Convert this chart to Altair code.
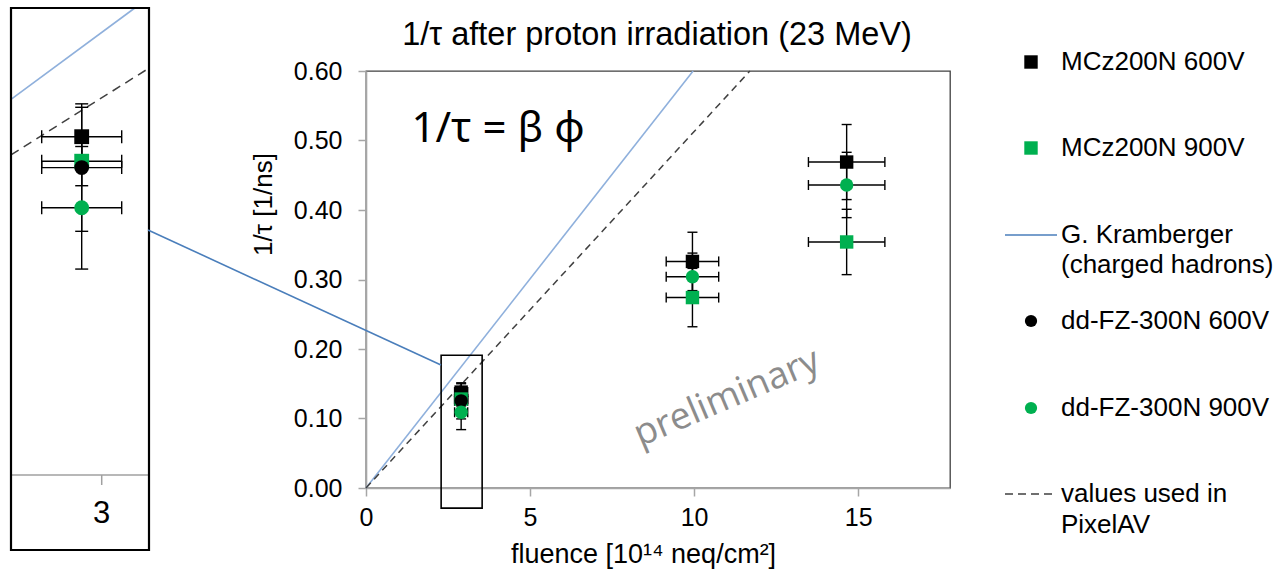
import altair as alt
import pandas as pd

# ---------------- data ----------------
series_names = ["MCz200N 600V", "MCz200N 900V", "dd-FZ-300N 600V", "dd-FZ-300N 900V"]
series_colors = ["#000000", "#00b050", "#000000", "#00b050"]
series_shapes = ["square", "square", "circle", "circle"]

fluence = [2.9, 9.95, 14.65]            # 1e14 neq/cm^2
fluence_err = [0.2, 0.8, 1.165]

mcz600_tau = [0.138, 0.326, 0.469]
mcz600_err = [0.012, 0.042, 0.054]
mcz900_tau = [0.128, 0.274, 0.354]
mcz900_err = [0.010, 0.042, 0.047]
dd600_fluence = [2.9]
dd600_fluence_err = [0.2]
dd600_tau = [0.1254]
dd600_err = [0.026]
dd900_tau = [0.109, 0.304, 0.436]
dd900_err = [0.025, 0.034, 0.047]

kram_x = [0.0, 9.97]        # G. Kramberger (charged hadrons)
kram_y = [0.0, 0.60]
pixelav_x = [0.0, 11.7]     # values used in PixelAV
pixelav_y = [0.0, 0.60]

x_ticks = [0, 5, 10, 15]
y_ticks = [0.0, 0.1, 0.2, 0.3, 0.4, 0.5, 0.6]
x_domain = [0, 17.8]
y_domain = [0, 0.6]

zoom_box_x = [2.29, 3.54]
zoom_box_y = [-0.029, 0.191]
inset_x_domain = [2.5465, 3.2365]
inset_y_domain = [-0.0306, 0.1905]
inset_ticks = [3]

chart_title = "1/τ after proton irradiation (23 MeV)"
legend_labels = ["MCz200N 600V", "MCz200N 900V", "G. Kramberger", "(charged hadrons)",
                 "dd-FZ-300N 600V", "dd-FZ-300N 900V", "values used in", "PixelAV"]

# ---------------- tables ----------------
rows = []
for name, fl, fle, tau, err in [
    (series_names[0], fluence, fluence_err, mcz600_tau, mcz600_err),
    (series_names[1], fluence, fluence_err, mcz900_tau, mcz900_err),
    (series_names[2], dd600_fluence, dd600_fluence_err, dd600_tau, dd600_err),
    (series_names[3], fluence, fluence_err, dd900_tau, dd900_err),
]:
    for f, fe, t, e in zip(fl, fle, tau, err):
        rows.append(dict(series=name, fluence=f, xlo=f - fe, xhi=f + fe, tau=t, lo=t - e, hi=t + e))
df = pd.DataFrame(rows)

kram_df = pd.DataFrame({"lx": kram_x, "ly": kram_y})
pix_df = pd.DataFrame({"lx": pixelav_x, "ly": pixelav_y})


def clip_line(xs_, ys_, xd, yd):
    slope = (ys_[1] - ys_[0]) / (xs_[1] - xs_[0])
    x0 = max(xd[0], yd[0] / slope)
    x1 = min(xd[1], yd[1] / slope)
    return pd.DataFrame({"lx": [x0, x1], "ly": [slope * x0, slope * x1]})


kram_in = clip_line(kram_x, kram_y, inset_x_domain, inset_y_domain)
pix_in = clip_line(pixelav_x, pixelav_y, inset_x_domain, inset_y_domain)

one = pd.DataFrame({"k": [0]})
box_main = pd.DataFrame({"x0": [zoom_box_x[0]], "x1": [zoom_box_x[1]], "y0": [zoom_box_y[0]], "y1": [zoom_box_y[1]]})
box_inset = pd.DataFrame({"x0": [inset_x_domain[0]], "x1": [inset_x_domain[1]], "y0": [inset_y_domain[0]], "y1": [inset_y_domain[1]]})
inset_tick_df = pd.DataFrame({"t": inset_ticks, "z": [0] * len(inset_ticks),
                              "lab": [str(t) for t in inset_ticks]})
inset_axis_df = pd.DataFrame({"x0": [inset_x_domain[0]], "x1": [inset_x_domain[1]], "z": [0]})

# ---------------- scales / axes ----------------
main_xs = alt.Scale(domain=x_domain, nice=False, zero=False)
main_ys = alt.Scale(domain=y_domain, nice=False, zero=False)
main_xax = alt.Axis(values=x_ticks, format="d", title="fluence [10¹⁴ neq/cm²]", grid=False,
                    tickSize=8, labelPadding=9, labelFontSize=25, titleFontSize=27, labelFlush=False,
                    titleX=277, titleY=66, titleAlign="center", titleBaseline="middle")
main_yax = alt.Axis(values=y_ticks, format=".2f", title="1/τ  [1/ns]", grid=False,
                    tickSize=8, labelPadding=16, labelFontSize=25, titleFontSize=26, labelFlush=False,
                    titleX=-103, titleY=133, titleAngle=270, titleAlign="center",
                    titleBaseline="middle")

in_xs = alt.Scale(domain=inset_x_domain, range=[11 - 366, 149 - 366], nice=False, zero=False)
in_ys = alt.Scale(domain=inset_y_domain, range=[550 - 71, 8 - 71], nice=False, zero=False)

color_scale = alt.Scale(domain=series_names, range=series_colors)
shape_scale = alt.Scale(domain=series_names, range=series_shapes)


def data_layers(xs, ys, xax, yax, size, cap):
    def X(f):
        return alt.X(f, type="quantitative", scale=xs, axis=xax)

    def Y(f):
        return alt.Y(f, type="quantitative", scale=ys, axis=yax)

    base = alt.Chart(df)
    rule = dict(color="black", strokeWidth=1.4)
    layers = [
        base.mark_rule(**rule).encode(x=X("fluence"), y=Y("lo"), y2="hi"),
        base.mark_rule(**rule, xOffset=-cap, x2Offset=cap).encode(x=X("fluence"), x2="fluence", y=Y("lo"), y2="lo"),
        base.mark_rule(**rule, xOffset=-cap, x2Offset=cap).encode(x=X("fluence"), x2="fluence", y=Y("hi"), y2="hi"),
        base.mark_rule(**rule).encode(x=X("xlo"), x2="xhi", y=Y("tau")),
        base.mark_rule(**rule, yOffset=-cap, y2Offset=cap).encode(x=X("xlo"), x2="xlo", y=Y("tau"), y2="tau"),
        base.mark_rule(**rule, yOffset=-cap, y2Offset=cap).encode(x=X("xhi"), x2="xhi", y=Y("tau"), y2="tau"),
        base.mark_point(filled=True, size=size, opacity=1, strokeWidth=0).encode(
            x=X("fluence"), y=Y("tau"),
            color=alt.Color("series:N", scale=color_scale, legend=None),
            shape=alt.Shape("series:N", scale=shape_scale, legend=None),
        ),
    ]
    return layers, X, Y


# ---------------- main panel ----------------
m_layers, MX, MY = data_layers(main_xs, main_ys, main_xax, main_yax, 180, 5)
main_kram = alt.Chart(kram_df).mark_line(color="#8fb0dc", strokeWidth=1.6).encode(x=MX("lx"), y=MY("ly"))
main_pix = alt.Chart(pix_df).mark_line(color="#404040", strokeWidth=1.5, strokeDash=[7, 5]).encode(x=MX("lx"), y=MY("ly"))
main_box = alt.Chart(box_main).mark_rect(fillOpacity=0, stroke="black", strokeWidth=1.6).encode(
    x=MX("x0"), x2="x1", y=MY("y0"), y2="y1")
main = alt.layer(main_kram, main_pix, *m_layers, main_box)

# ---------------- inset panel ----------------
i_layers, IX, IY = data_layers(in_xs, in_ys, None, None, 220, 6.5)
in_kram = alt.Chart(kram_in).mark_line(color="#8fb0dc", strokeWidth=1.6).encode(x=IX("lx"), y=IY("ly"))
in_pix = alt.Chart(pix_in).mark_line(color="#404040", strokeWidth=1.5, strokeDash=[9, 6]).encode(x=IX("lx"), y=IY("ly"))
in_axis = alt.Chart(inset_axis_df).mark_rule(color="#a0a0a0", strokeWidth=1.5).encode(
    x=IX("x0"), x2="x1", y=IY("z"))
in_tick = alt.Chart(inset_tick_df).mark_rule(color="#a0a0a0", strokeWidth=1.5, y2Offset=10).encode(
    x=IX("t"), y=IY("z"), y2="z")
in_lab = alt.Chart(inset_tick_df).mark_text(fontSize=31, dy=39, color="black", baseline="middle").encode(
    x=IX("t"), y=IY("z"), text="lab:N")
in_box = alt.Chart(box_inset).mark_rect(fillOpacity=0, stroke="black", strokeWidth=2.2).encode(
    x=IX("x0"), x2="x1", y=IY("y0"), y2="y1")
inset = alt.layer(in_axis, in_tick, in_lab, in_kram, in_pix, *i_layers, in_box)

# ---------------- annotations ----------------
title_mark = alt.Chart(one).mark_text(fontSize=32.5, color="black", align="center", baseline="middle").encode(
    x=alt.value(291), y=alt.value(-36), text=alt.value(chart_title))
callout = alt.Chart(one).mark_rule(color="#4a7ebb", strokeWidth=1.6).encode(
    x=alt.value(-218), y=alt.value(159), x2=alt.value(75), y2=alt.value(294))
formula = alt.Chart(one).mark_text(font="Noto Sans", fontSize=42, color="black", align="center",
                                   baseline="middle").encode(
    x=alt.value(132), y=alt.value(58), text=alt.value("1/τ = β φ"))
prelim = alt.Chart(one).mark_text(font="Open Sans", fontSize=37, color="#8c8c8c", align="center",
                                  baseline="middle", angle=337).encode(
    x=alt.value(361), y=alt.value(327), text=alt.value("preliminary"))

leg = []
lx_sym, lx_txt = 665, 695
leg_y = [-9, 77, 164, 194, 250, 337, 423, 454]
for i, lab in enumerate(legend_labels):
    leg.append(alt.Chart(one).mark_text(fontSize=26, color="black", align="left", baseline="middle").encode(
        x=alt.value(lx_txt), y=alt.value(leg_y[i]), text=alt.value(lab)))
for yy, shp, col, sz in [(leg_y[0], "square", series_colors[0], 180), (leg_y[1], "square", series_colors[1], 180),
                         (leg_y[4], "circle", series_colors[2], 150), (leg_y[5], "circle", series_colors[3], 150)]:
    leg.append(alt.Chart(one).mark_point(shape=shp, filled=True, size=sz, opacity=1, strokeWidth=0, color=col).encode(
        x=alt.value(lx_sym), y=alt.value(yy)))
leg.append(alt.Chart(one).mark_rule(color="#4a7ebb", strokeWidth=1.5).encode(
    x=alt.value(639), x2=alt.value(691), y=alt.value(leg_y[2])))
leg.append(alt.Chart(one).mark_rule(color="#404040", strokeWidth=1.5, strokeDash=[8, 5]).encode(
    x=alt.value(639), x2=alt.value(691), y=alt.value(leg_y[6])))

chart = alt.layer(main, inset, title_mark, callout, formula, prelim, *leg).resolve_scale(
    x="independent", y="independent"
).properties(
    width=584, height=417,
    padding={"left": 366, "top": 71, "right": 333, "bottom": 83},
    autosize=alt.AutoSizeParams(type="none"),
).configure(
    font="Liberation Sans", background="white"
).configure_view(
    stroke="#404040", strokeWidth=1.3
).configure_axis(
    labelFont="Liberation Sans", titleFont="Liberation Sans", labelColor="black", titleColor="black",
    titleFontWeight="normal", domainColor="#a6a6a6", tickColor="#a6a6a6", domainWidth=1.6, tickWidth=1.5
)

chart.save("out.html", embed_options={"renderer": "svg", "actions": False})
